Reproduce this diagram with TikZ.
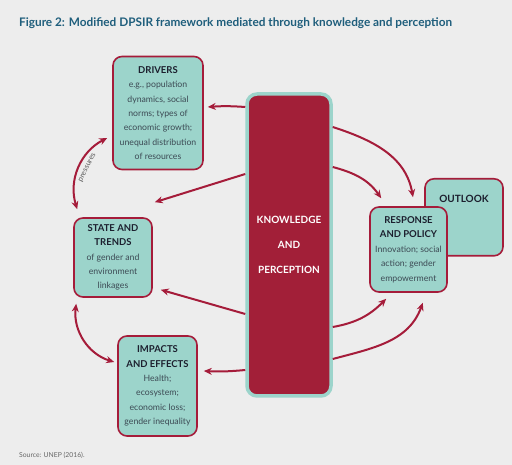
\documentclass[tikz,border=0pt]{standalone}
\usepackage{fontspec}
\setmainfont{Lato}
\usetikzlibrary{arrows.meta}

\definecolor{bgcol}{HTML}{EDEDED}
\definecolor{boxteal}{HTML}{9CD4CB}
\definecolor{boxred}{HTML}{A51C3A}
\definecolor{kpred}{HTML}{A21F38}
\definecolor{titleblue}{HTML}{1F5E7C}
\definecolor{headcol}{HTML}{1C1F2E}
\definecolor{bodycol}{HTML}{3C4A54}

\tikzset{
  box/.style={draw=boxred, fill=boxteal, line width=1.6pt, rounded corners=9pt,
    align=center, inner sep=2pt, text=bodycol, font=\fontsize{8.7}{14.4}\selectfont},
  kpbox/.style={draw=boxteal, fill=kpred, line width=3.5pt, rounded corners=10pt,
    align=center, text=white, font=\bfseries\fontsize{10}{12}\selectfont},
  arr/.style={draw=boxred, line width=2pt, -{Stealth[length=8pt,width=7pt]}},
  dblarr/.style={draw=boxred, line width=2pt, {Stealth[length=8pt,width=7pt]}-{Stealth[length=8pt,width=7pt]}}
}
\newcommand{\hd}[1]{{\bfseries\color{headcol}\fontsize{9.5}{14.4}\selectfont #1}}

\begin{document}
\begin{tikzpicture}[x=1pt,y=1pt]
  % background
  \fill[bgcol] (0,0) rectangle (512,465);
  \useasboundingbox (0,0) rectangle (512,465);

  % title and source
  \node[anchor=west, inner sep=0pt, text=titleblue, font=\bfseries\fontsize{11.8}{13}\selectfont]
    (title) at (19,442) {Figure 2: Modified DPSIR framework mediated through knowledge and perception};
  \node[anchor=west, inner sep=0pt, text=gray!80!black, font=\fontsize{6.8}{8}\selectfont]
    (source) at (19,10) {Source: UNEP (2016).};

  % boxes
  \node[kpbox, minimum width=84pt, minimum height=302pt] (kp) at (289,220)
    {KNOWLEDGE\\[13pt] AND\\[13pt] PERCEPTION};
  \node[box, minimum width=90pt, minimum height=113pt] (drivers) at (158,352)
    {\hd{DRIVERS}\\ e.g., population\\ dynamics, social\\ norms; types of\\ economic growth;\\ unequal distribution\\ of resources};
  \node[box, minimum width=78pt, minimum height=79pt] (state) at (113,207.5)
    {\hd{STATE AND}\\ \hd{TRENDS}\\ of gender and\\ environment\\ linkages};
  \node[box, minimum width=79pt, minimum height=100pt] (impacts) at (157.5,79)
    {\hd{IMPACTS}\\ \hd{AND EFFECTS}\\ Health;\\ ecosystem;\\ economic loss;\\ gender inequality};
  \node[box, anchor=north, minimum width=78pt, text height=7pt, text depth=36pt, inner ysep=17pt,
    font=\bfseries\fontsize{10}{12}\selectfont, text=headcol] (outlook) at (464,287) {OUTLOOK};
  \node[box, minimum width=77pt, minimum height=85pt] (response) at (408.5,215.5)
    {\hd{RESPONSE}\\ \hd{AND POLICY}\\ Innovation; social\\ action; gender\\ empowerment};

  % arrows out of knowledge and perception, left side
  \draw[arr] ([yshift=138pt]kp.west) to[bend right=4] ([shift={(4pt,6pt)}]drivers.east);
  \draw[arr] ([yshift=71pt]kp.west) -- ([shift={(2pt,15pt)}]state.north east);
  \draw[arr] ([yshift=-69pt]kp.west) -- ([shift={(8pt,8pt)}]state.south east);
  \draw[arr] ([yshift=-125pt]kp.west) to[bend left=4] ([shift={(6pt,15pt)}]impacts.east);

  % arrows out of knowledge and perception, right side
  \draw[arr] ([yshift=118pt]kp.east) to[out=-18,in=100] ([shift={(4.5pt,9pt)}]response.north);
  \draw[arr] ([yshift=78pt]kp.east) to[out=-15,in=125] ([shift={(12pt,8pt)}]response.north west);
  \draw[arr] ([yshift=-82pt]kp.east) to[out=10,in=-135] ([shift={(17pt,-6pt)}]response.south west);
  \draw[arr] ([yshift=-114pt]kp.east) to[out=15,in=-110] ([shift={(-25pt,-10pt)}]response.south east);

  % cycle on the left
  \draw[dblarr] ([shift={(4pt,8pt)}]state.north west) to[bend left=40]
    node[sloped, pos=0.55, below=1pt, text=gray!70!black, font=\fontsize{7.5}{8}\selectfont] {pressures}
    ([shift={(-5pt,-25pt)}]drivers.west);
  \draw[dblarr] ([shift={(3pt,-6pt)}]state.south west) to[bend right=40] ([shift={(-3pt,24pt)}]impacts.west);
\end{tikzpicture}
\end{document}
